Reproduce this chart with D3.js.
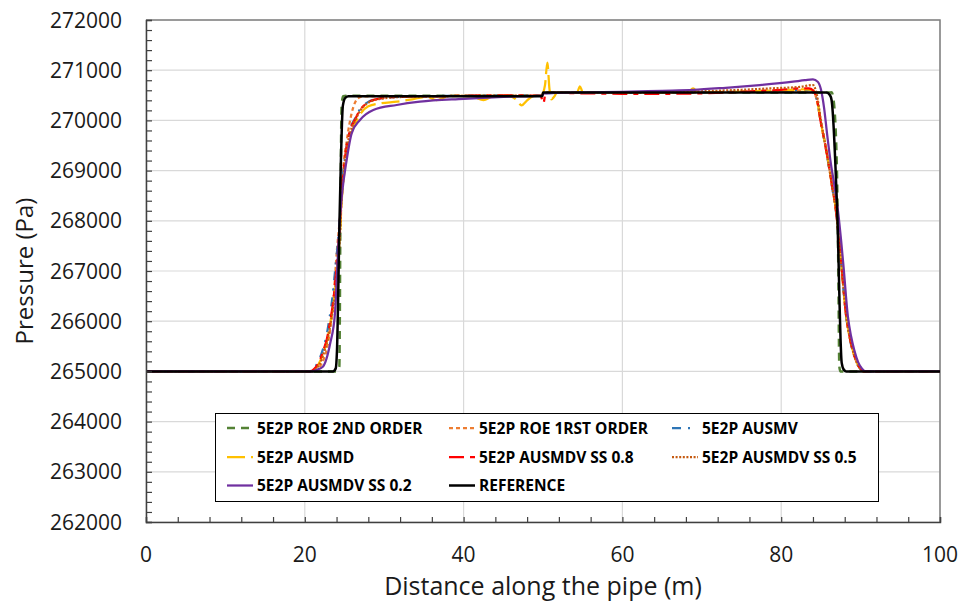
<!DOCTYPE html>
<html>
<head>
<meta charset="utf-8">
<script src="https://cdn.jsdelivr.net/npm/d3@7"></script>
<style>
  body { margin: 0; background: #fff; }
  svg { display: block; font-family: "Open Sans", sans-serif; }
</style>
</head>
<body>
<svg id="chart" width="962" height="603"></svg>
<script>
// ---- axis ticks ----
const distanceTicks = [0, 20, 40, 60, 80, 100];
const pressureTicks = [262000, 263000, 264000, 265000, 266000, 267000, 268000, 269000, 270000, 271000, 272000];

// ---- series names (legend order = drawing order) ----
const seriesNames = [
  "5E2P ROE 2ND ORDER", "5E2P ROE 1RST ORDER", "5E2P AUSMV",
  "5E2P AUSMD", "5E2P AUSMDV SS 0.8", "5E2P AUSMDV SS 0.5",
  "5E2P AUSMDV SS 0.2", "REFERENCE"
];

// ---- pressure profiles: [distance (m), pressure (Pa)] ----
const roe2nd = [[0,265000],[24.0,265000],[24.35,265100],[24.5,268400],[24.64,270300],[24.84,270480],[25.2,270490],[35,270490],[49.9,270495],[50.05,270555],[60,270555],[70,270555],[80,270555],[86.0,270555],[86.35,270560],[86.56,270450],[86.99,269200],[87.19,267100],[87.32,265100],[87.45,265000],[100,265000]];

const roe1st = [[0,265000],[20.9,265000],[21.5,265040],[21.9,265100],[22.4,265250],[22.75,265426],[23.2,265850],[23.6,266422],[24.05,267420],[24.4,268000],[24.65,268414],[24.85,269012],[25.3,269610],[25.9,270141],[26.7,270440],[27.5,270480],[35,270485],[49.8,270490],[50.1,270550],[60,270555],[70,270560],[80,270580],[83.5,270600],[84.0,270580],[84.5,270400],[85.0,269950],[85.5,269550],[85.9,269200],[86.4,268700],[86.9,268200],[87.3,267600],[87.6,267086],[88.2,266090],[88.6,265700],[89.0,265426],[89.5,265180],[90.0,265050],[90.4,265000],[100,265000]];

const ausmv = [[0,265000],[20.5,265000],[21.1,265050],[21.8,265230],[22.3,265450],[22.65,265650],[23.1,266050],[23.5,266500],[23.9,267150],[24.3,267800],[24.55,268414],[24.8,268900],[25.27,269476],[25.7,269820],[26.3,270030],[26.95,270220],[27.8,270350],[29.5,270440],[32,270470],[36,270485],[40,270490],[45,270495],[49.8,270495],[50.1,270540],[52,270550],[60,270550],[70,270560],[80,270590],[83,270610],[84.0,270590],[84.5,270410],[85.0,269950],[85.5,269550],[85.9,269180],[86.4,268680],[86.9,268180],[87.3,267580],[87.6,267060],[88.2,266070],[88.6,265680],[89.0,265410],[89.5,265170],[90.0,265045],[90.4,265000],[100,265000]];

const ausmd = [[0,265000],[20.7,265000],[21.3,265050],[22.0,265230],[22.5,265450],[22.85,265650],[23.3,266050],[23.7,266450],[24.1,267100],[24.45,267780],[24.65,268400],[24.9,268850],[25.35,269400],[25.8,269720],[26.4,269950],[27.1,270150],[28.0,270280],[29.5,270340],[31.6,270373],[33.5,270420],[35.4,270470],[36.6,270405],[37.8,270470],[39.5,270490],[41.2,270470],[42.5,270405],[43.7,270480],[45.5,270495],[46.6,270420],[47.3,270300],[48.0,270400],[48.7,270480],[49.8,270500],[50.25,270700],[50.55,271150],[50.8,270650],[51.05,270420],[51.4,270470],[51.8,270560],[53.5,270555],[54.3,270560],[54.65,270680],[55.0,270565],[60,270555],[65,270560],[68.3,270565],[68.9,270640],[69.5,270565],[75,270575],[80,270600],[83,270620],[84.0,270600],[84.5,270420],[85.0,269950],[85.5,269560],[85.9,269210],[86.4,268710],[86.9,268210],[87.3,267610],[87.6,267090],[88.2,266100],[88.6,265710],[89.0,265430],[89.5,265185],[90.0,265050],[90.4,265000],[100,265000]];

const ausmdvSS08 = [[0,265000],[20.6,265000],[21.2,265050],[21.9,265227],[22.4,265450],[22.75,265625],[23.2,266000],[23.6,266422],[24.0,267086],[24.35,267751],[24.56,268414],[24.8,268900],[25.27,269476],[25.7,269800],[26.3,270008],[26.95,270207],[27.8,270340],[29.5,270440],[32,270470],[36,270480],[40,270490],[44,270500],[48,270495],[49.7,270490],[50.05,270340],[50.3,270520],[50.6,270550],[55,270540],[60,270530],[65,270530],[70,270540],[75,270570],[80,270610],[82.5,270640],[83.5,270640],[84.0,270600],[84.5,270420],[85.0,269950],[85.5,269550],[85.9,269200],[86.4,268700],[86.9,268200],[87.3,267600],[87.6,267086],[88.2,266090],[88.6,265700],[89.0,265426],[89.5,265180],[90.0,265050],[90.4,265000],[100,265000]];

const ausmdvSS05 = [[0,265000],[20.8,265000],[21.4,265050],[22.1,265230],[22.55,265450],[22.9,265650],[23.35,266050],[23.75,266470],[24.1,267100],[24.45,267780],[24.62,268400],[24.88,268900],[25.3,269450],[25.75,269780],[26.35,270000],[27.0,270200],[27.8,270330],[29.5,270430],[32,270465],[36,270480],[40,270490],[45,270495],[49.8,270495],[50.1,270545],[55,270550],[60,270555],[65,270565],[70,270580],[75,270610],[79,270640],[82.5,270670],[84.0,270705],[84.5,270500],[85.0,270000],[85.5,269560],[85.9,269200],[86.4,268700],[86.9,268200],[87.3,267600],[87.6,267086],[88.2,266090],[88.6,265700],[89.0,265426],[89.5,265180],[90.0,265050],[90.4,265000],[100,265000]];

const ausmdvSS02 = [[0,265000],[20.8,265000],[21.5,265030],[22.3,265100],[23.2,265560],[23.8,266157],[24.2,267420],[24.45,268100],[24.7,268550],[25.27,269211],[25.9,269743],[26.95,270008],[28.63,270207],[31.57,270307],[34.5,270373],[40,270430],[45,270470],[49.9,270495],[50.1,270540],[55,270560],[60,270570],[65,270590],[68.9,270606],[73,270650],[77.3,270705],[81.5,270771],[83,270800],[84.0,270815],[84.6,270770],[85.0,270620],[85.4,270250],[85.8,269700],[86.2,269200],[86.7,268700],[87.15,268200],[87.55,267600],[87.85,267086],[88.4,266090],[88.8,265700],[89.2,265426],[89.7,265180],[90.2,265050],[90.6,265000],[100,265000]];

const reference = [[0,265000],[23.55,265000],[23.9,265060],[24.05,265400],[24.4,268200],[24.8,270300],[25.1,270450],[25.5,270480],[35,270480],[49.9,270482],[50.0,270555],[60,270555],[70,270555],[80,270555],[85.7,270555],[86.15,270500],[86.35,270400],[87.05,268200],[87.62,265170],[87.9,265030],[88.2,265000],[100,265000]];

const seriesData = [roe2nd, roe1st, ausmv, ausmd, ausmdvSS08, ausmdvSS05, ausmdvSS02, reference];

// ---- line styles per series ----
const seriesStyles = [
  { color: "#548235", dash: "8,6",        width: 2.5 },
  { color: "#ED7D31", dash: "4,3",        width: 2.25 },
  { color: "#2E75B6", dash: "9,7,2,8",    width: 2.25 },
  { color: "#FFC000", dash: "18,6",       width: 2.25 },
  { color: "#FF0000", dash: "15,6,5,6",   width: 2.25 },
  { color: "#C55A11", dash: "2,1.6",      width: 2.25 },
  { color: "#7030A0", dash: null,         width: 2.25 },
  { color: "#000000", dash: null,         width: 2.5 }
];

// ---- layout ----
const svg = d3.select("#chart");
const plot = { left: 146, right: 940, top: 20, bottom: 522 };

const x = d3.scaleLinear().domain([0, 100]).range([plot.left, plot.right]);
const y = d3.scaleLinear().domain([262000, 272000]).range([plot.bottom, plot.top]);

// gridlines
const grid = svg.append("g");
grid.selectAll("line.h").data(pressureTicks).join("line")
  .attr("x1", plot.left).attr("x2", plot.right)
  .attr("y1", d => y(d)).attr("y2", d => y(d))
  .attr("stroke", "#d9d9d9").attr("stroke-width", 1.2);
grid.selectAll("line.v").data(distanceTicks).join("line")
  .attr("y1", plot.top).attr("y2", plot.bottom)
  .attr("x1", d => x(d)).attr("x2", d => x(d))
  .attr("stroke", "#d9d9d9").attr("stroke-width", 1.2);

// plot frame (top and right)
svg.append("path")
  .attr("d", `M${plot.left},${plot.top}H${plot.right}V${plot.bottom}`)
  .attr("fill", "none").attr("stroke", "#7f7f7f").attr("stroke-width", 1.5);

// clipping for data lines
svg.append("clipPath").attr("id", "plotClip").append("rect")
  .attr("x", plot.left).attr("y", plot.top - 2)
  .attr("width", plot.right - plot.left).attr("height", plot.bottom - plot.top + 2);

const line = d3.line()
  .x(d => x(d[0])).y(d => y(d[1]))
  .curve(d3.curveMonotoneX);

const lines = svg.append("g").attr("clip-path", "url(#plotClip)");
seriesData.forEach((data, i) => {
  const st = seriesStyles[i];
  lines.append("path")
    .datum(data)
    .attr("d", line)
    .attr("fill", "none")
    .attr("stroke", st.color)
    .attr("stroke-width", st.width)
    .attr("stroke-linejoin", "round")
    .attr("stroke-dasharray", st.dash);
});

// y axis (minor ticks every 200 Pa, pointing inward)
const yAxis = d3.axisRight(y)
  .tickValues(d3.range(262000, 272001, 200))
  .tickSize(6).tickFormat("");
svg.append("g").attr("transform", `translate(${plot.left},0)`).call(yAxis)
  .call(g => g.select(".domain").attr("stroke", "#404040").attr("stroke-width", 1.5))
  .call(g => g.selectAll(".tick line").attr("stroke", "#404040").attr("stroke-width", 1.2));

// x axis (minor ticks every 4 m, pointing inward)
const xAxis = d3.axisTop(x)
  .tickValues(d3.range(0, 101, 4))
  .tickSize(5).tickFormat("");
svg.append("g").attr("transform", `translate(0,${plot.bottom})`).call(xAxis)
  .call(g => g.select(".domain").attr("stroke", "#404040").attr("stroke-width", 1.5))
  .call(g => g.selectAll(".tick line").attr("stroke", "#404040").attr("stroke-width", 1.2));

// tick labels
svg.append("g").selectAll("text").data(pressureTicks).join("text")
  .attr("x", 122).attr("y", d => y(d)).attr("dy", "0.36em")
  .attr("text-anchor", "end")
  .attr("font-size", 21).attr("fill", "#1a1a1a")
  .text(d => d);
svg.append("g").selectAll("text").data(distanceTicks).join("text")
  .attr("x", d => x(d)).attr("y", 562)
  .attr("text-anchor", "middle")
  .attr("font-size", 21).attr("fill", "#1a1a1a")
  .text(d => d);

// axis titles
svg.append("text")
  .attr("x", (plot.left + plot.right) / 2).attr("y", 595)
  .attr("text-anchor", "middle")
  .attr("font-size", 25).attr("fill", "#1a1a1a")
  .text("Distance along the pipe (m)");
svg.append("text")
  .attr("transform", `translate(33,${(plot.top + plot.bottom) / 2}) rotate(-90)`)
  .attr("text-anchor", "middle")
  .attr("font-size", 24).attr("fill", "#1a1a1a")
  .text("Pressure (Pa)");

// legend
const legend = svg.append("g");
legend.append("rect")
  .attr("x", 215.5).attr("y", 413.5).attr("width", 663).attr("height", 88)
  .attr("fill", "#fff").attr("stroke", "#000").attr("stroke-width", 1);
const colX = [227, 449, 672];
const rowY = [428, 457, 485.5];
seriesNames.forEach((name, i) => {
  const cx = colX[i % 3], cy = rowY[Math.floor(i / 3)];
  const st = seriesStyles[i];
  legend.append("line")
    .attr("x1", cx).attr("x2", cx + 26).attr("y1", cy).attr("y2", cy)
    .attr("stroke", st.color).attr("stroke-width", st.width)
    .attr("stroke-dasharray", st.dash);
  legend.append("text")
    .attr("x", cx + 30).attr("y", cy).attr("dy", "0.36em")
    .attr("font-size", 15.5).attr("font-weight", "bold").attr("fill", "#000")
    .text(name);
});
</script>
</body>
</html>
